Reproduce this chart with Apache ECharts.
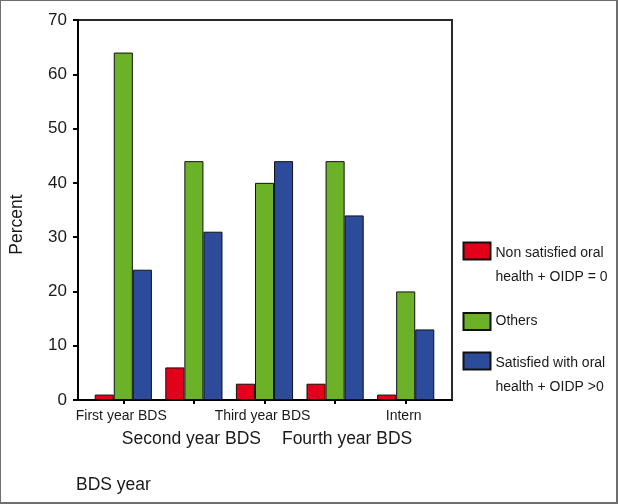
<!DOCTYPE html>
<html>
<head>
<meta charset="utf-8">
<script src="https://cdn.jsdelivr.net/npm/echarts@6/dist/echarts.min.js"></script>
<style>
html,body{margin:0;padding:0;background:#fff;}
#frame{position:absolute;left:0;top:0;width:618px;height:504px;box-sizing:border-box;border-style:solid;border-color:#6e6e6e;border-width:1px 2px 2px 1px;}
#chart{position:absolute;left:0;top:0;width:618px;height:504px;}
</style>
</head>
<body>
<div id="chart"></div>
<div id="frame"></div>
<script>
const categories = ['First year BDS', 'Second year BDS', 'Third year BDS', 'Fourth year BDS', 'Intern'];
const seriesNames = ['Non satisfied oral\nhealth + OIDP = 0', 'Others', 'Satisfied with oral\nhealth + OIDP >0'];
const nonSatisfied = [1, 6, 3, 3, 1];
const others = [64, 44, 40, 44, 20];
const satisfied = [24, 31, 44, 34, 13];
const yMin = 0, yMax = 70, yStep = 10;
const colors = ['#e3001b', '#6cb229', '#2c4b9b'];

const font = 'Liberation Sans, Arial, Helvetica, sans-serif';
const txt = '#1a1a1a';

const chart = echarts.init(document.getElementById('chart'), null, {renderer: 'canvas'});

function legendFor(i, top, multi) {
  return {
    data: [seriesNames[i]],
    orient: 'vertical',
    left: 462.5,
    top: top,
    padding: 0,
    itemWidth: 27,
    itemHeight: 17,
    itemGap: 5,
    icon: 'rect',
    selectedMode: false,
    formatter: function (name) {
      const lines = name.split('\n').map(function (s) { return '{t|' + s + '}'; });
      return multi ? '{s| }\n' + lines.join('\n') : lines.join('\n');
    },
    textStyle: {
      fontFamily: font, fontSize: 14, color: txt, lineHeight: 24,
      rich: {
        s: {fontFamily: font, fontSize: 14, lineHeight: 28},
        t: {fontFamily: font, fontSize: 14, lineHeight: 24, color: txt}
      }
    }
  };
}

const option = {
  animation: false,
  backgroundColor: '#fff',
  title: {
    text: 'BDS year', left: 76, top: 476, padding: 0,
    textStyle: {fontFamily: font, fontSize: 17.5, fontWeight: 'normal', color: txt}
  },
  legend: [legendFor(0, 213, true), legendFor(1, 309.5, false), legendFor(2, 323, true)],
  grid: [
    {left: 76, top: 20, width: 376, height: 380, show: true, borderColor: '#2a2a2a', borderWidth: 2, backgroundColor: 'transparent', containLabel: false},
    {left: 88, top: 20, width: 353, height: 380, containLabel: false}
  ],
  xAxis: [
    {type: 'value', gridIndex: 0, min: 0, max: 1, axisLabel: {show: false}, axisTick: {show: false}, splitLine: {show: false},
     axisLine: {show: true, lineStyle: {color: '#000', width: 2}}},
    {type: 'category', gridIndex: 1, data: categories,
     axisLine: {show: false},
     axisTick: {show: true, alignWithLabel: true, length: 4, lineStyle: {color: '#000', width: 2}},
     axisLabel: {
       interval: 0, margin: 8, color: txt, fontFamily: font,
       formatter: function (v, idx) {
         if (idx % 2 === 0) return '{a|' + v + '}';
         return idx === 3 ? '{c|' + v + '}' : '{b|' + v + '}';
       },
       rich: {
         a: {fontFamily: font, fontSize: 14, lineHeight: 16, color: txt, padding: [0, 4, 0, 0]},
         b: {fontFamily: font, fontSize: 17.5, lineHeight: 62, color: txt, padding: [0, 5, 0, 0]},
         c: {fontFamily: font, fontSize: 17.5, lineHeight: 62, color: txt, padding: [0, 0, 0, 24]}
       }
     }}
  ],
  yAxis: [
    {type: 'value', gridIndex: 0, min: yMin, max: yMax, interval: yStep,
     name: 'Percent', nameLocation: 'middle', nameGap: 52, nameRotate: 90,
     nameTextStyle: {fontFamily: font, fontSize: 17.5, color: txt, padding: [0, 29, 0, 0]},
     axisLine: {show: true, lineStyle: {color: '#000', width: 2}},
     axisTick: {show: true, inside: false, length: 5, lineStyle: {color: '#000', width: 2}},
     axisLabel: {fontFamily: font, fontSize: 17, color: txt, margin: 11},
     splitLine: {show: false}},
    {type: 'value', gridIndex: 1, min: yMin, max: yMax, interval: yStep, show: false, splitLine: {show: false}}
  ],
  series: [nonSatisfied, others, satisfied].map(function (d, i) {
    return {
      name: seriesNames[i], type: 'bar', xAxisIndex: 1, yAxisIndex: 1, data: d,
      barGap: '0%', barCategoryGap: '19%',
      itemStyle: {color: colors[i], borderColor: '#111', borderWidth: 1}
    };
  })
};
chart.setOption(option);
</script>
</body>
</html>
